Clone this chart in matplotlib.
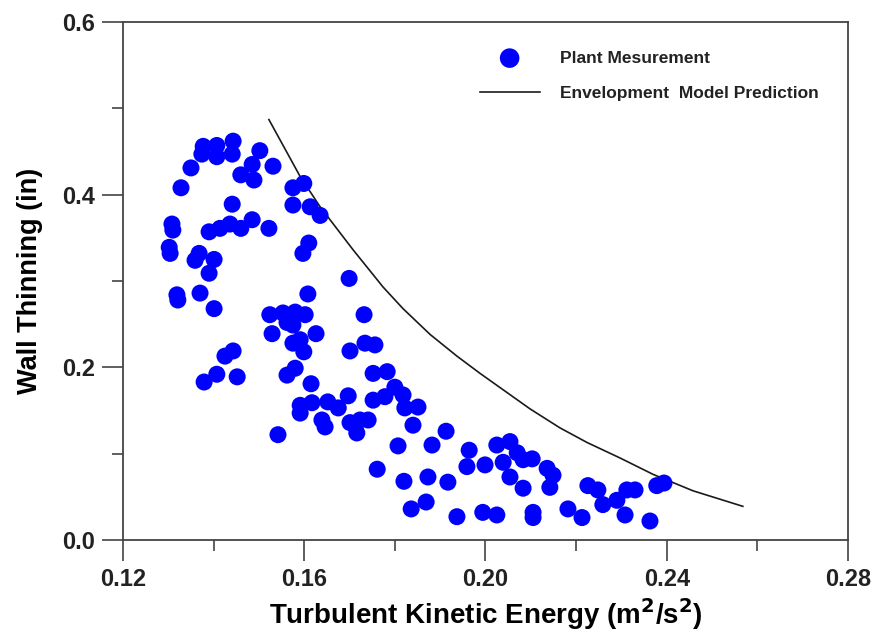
import numpy as np
import matplotlib
matplotlib.use("Agg")
import matplotlib.pyplot as plt
from matplotlib.ticker import MultipleLocator, FormatStrFormatter

plt.rcParams['font.family'] = ['Liberation Sans', 'DejaVu Sans']
plt.rcParams['font.weight'] = 'bold'
plt.rcParams['mathtext.default'] = 'bf'

# plant measurements: turbulent kinetic energy (m2/s2) vs wall thinning (in)
tke = [0.1328, 0.1350, 0.1377, 0.1374, 0.1407, 0.1407, 0.1443, 0.1441, 0.1502, 0.1485,
       0.1460, 0.1489, 0.1531, 0.1575, 0.1599, 0.1575, 0.1613, 0.1635, 0.1441,
       0.1308, 0.1310, 0.1390, 0.1414, 0.1436, 0.1460, 0.1485, 0.1522, 0.1302, 0.1304,
       0.1368, 0.1359, 0.1401, 0.1390, 0.1610, 0.1597, 0.1319, 0.1321, 0.1370, 0.1401,
       0.1608, 0.1699, 0.1524, 0.1553, 0.1580, 0.1602, 0.1562, 0.1575, 0.1529, 0.1626,
       0.1732, 0.1575, 0.1591, 0.1599, 0.1701, 0.1734, 0.1756, 0.1443, 0.1425, 0.1379,
       0.1407, 0.1452, 0.1562, 0.1580, 0.1615, 0.1697, 0.1591, 0.1617, 0.1652, 0.1675,
       0.1591, 0.1639, 0.1646, 0.1701, 0.1723, 0.1741, 0.1716, 0.1542, 0.1752, 0.1783,
       0.1752, 0.1778, 0.1800, 0.1818, 0.1822, 0.1851, 0.1840, 0.1913, 0.1807, 0.1882,
       0.1964, 0.1959, 0.1999, 0.2025, 0.2054, 0.2039, 0.2070, 0.2083, 0.2054, 0.2083,
       0.1761, 0.1820, 0.1873, 0.1917, 0.1836, 0.1869, 0.1937, 0.1994, 0.2025, 0.2103,
       0.2136, 0.2149, 0.2142, 0.2105, 0.2105, 0.2182, 0.2213, 0.2226, 0.2248, 0.2259,
       0.2290, 0.2312, 0.2330, 0.2308, 0.2363, 0.2378, 0.2394]
thinning = [0.408, 0.431, 0.456, 0.447, 0.457, 0.444, 0.462, 0.447, 0.451, 0.435,
            0.423, 0.417, 0.433, 0.408, 0.413, 0.388, 0.386, 0.376, 0.389,
            0.366, 0.359, 0.357, 0.361, 0.366, 0.361, 0.371, 0.361, 0.339, 0.332,
            0.332, 0.324, 0.325, 0.309, 0.344, 0.332, 0.284, 0.278, 0.286, 0.268,
            0.285, 0.303, 0.261, 0.263, 0.264, 0.261, 0.252, 0.249, 0.239, 0.239,
            0.261, 0.228, 0.232, 0.218, 0.219, 0.228, 0.226, 0.219, 0.213, 0.183,
            0.192, 0.189, 0.191, 0.199, 0.181, 0.167, 0.156, 0.159, 0.160, 0.153,
            0.147, 0.139, 0.131, 0.136, 0.139, 0.139, 0.124, 0.122, 0.193, 0.195,
            0.162, 0.166, 0.177, 0.168, 0.153, 0.154, 0.133, 0.126, 0.109, 0.110,
            0.104, 0.085, 0.087, 0.110, 0.114, 0.090, 0.101, 0.093, 0.073, 0.060,
            0.082, 0.068, 0.073, 0.067, 0.036, 0.044, 0.027, 0.032, 0.029, 0.094,
            0.083, 0.075, 0.061, 0.032, 0.026, 0.036, 0.026, 0.063, 0.058, 0.041,
            0.046, 0.058, 0.058, 0.029, 0.022, 0.063, 0.066]

# envelopment model curve
model_tke = [0.1522, 0.1591, 0.1635, 0.1708, 0.1774, 0.1818, 0.1878, 0.1937, 0.1988,
             0.2039, 0.2098, 0.2164, 0.2224, 0.2297, 0.2370, 0.2458, 0.2568]
model_thinning = [0.487, 0.421, 0.386, 0.336, 0.293, 0.268, 0.238, 0.213, 0.193,
                  0.174, 0.152, 0.130, 0.113, 0.095, 0.076, 0.057, 0.039]

fig = plt.figure(figsize=(8.78, 6.35), dpi=100)
ax = fig.add_axes([0.1401, 0.1496, 0.8257, 0.8157])

ax.scatter(tke, thinning, s=150, color='#0000ff', edgecolors='none',
           label='Plant Mesurement', zorder=3)
ax.plot(model_tke, model_thinning, color='#1a1a1a', lw=1.2,
        label='Envelopment  Model Prediction', zorder=2)

ax.set_xlim(0.12, 0.28)
ax.set_ylim(0.0, 0.6)
ax.xaxis.set_major_locator(MultipleLocator(0.04))
ax.xaxis.set_minor_locator(MultipleLocator(0.02))
ax.yaxis.set_major_locator(MultipleLocator(0.2))
ax.yaxis.set_minor_locator(MultipleLocator(0.1))
ax.xaxis.set_major_formatter(FormatStrFormatter('%.2f'))
ax.yaxis.set_major_formatter(FormatStrFormatter('%.1f'))

for sp in ax.spines.values():
    sp.set_color('#444444')
    sp.set_linewidth(1.3)

ax.tick_params(which='major', direction='out', length=15, width=1.2,
               color='#444444', labelsize=17, pad=5, labelcolor='#222222')
ax.tick_params(which='minor', direction='out', length=8, width=1.2, color='#444444')

ax.set_xlabel('Turbulent Kinetic Energy (m$^2$/s$^2$)', fontsize=20,
              fontweight='bold', labelpad=4)
ax.set_ylabel('Wall Thinning (in)', fontsize=19.5, fontweight='bold', labelpad=14)

leg = ax.legend(loc='upper left', bbox_to_anchor=(0.492, 0.945), frameon=False,
                fontsize=12.5, handlelength=3.45, handletextpad=1.15,
                labelspacing=1.15, borderpad=0, borderaxespad=0, markerscale=1.15)
for t in leg.get_texts():
    t.set_color('#222222')

fig.savefig('out.png', dpi=100)
